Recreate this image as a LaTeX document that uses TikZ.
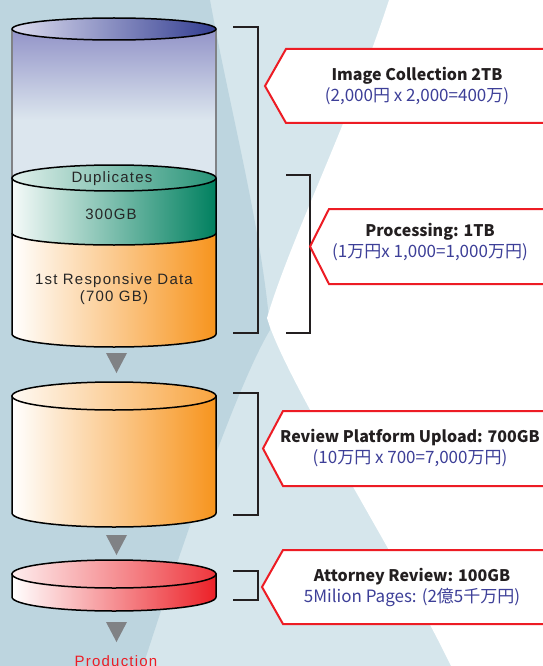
\documentclass[tikz,border=0pt]{standalone}
\usepackage{fontspec}
\setmainfont{Liberation Sans}
\newfontfamily\cylfont{Liberation Sans}[LetterSpace=8]
\newfontfamily\tagfont{Noto Sans CJK JP}
\usetikzlibrary{positioning}

\definecolor{bgdark}{HTML}{BDD5DF}
\definecolor{bglight}{HTML}{D6E6EC}
\definecolor{tagred}{HTML}{ED1C24}
\definecolor{subblue}{HTML}{3D3F98}
\definecolor{titledark}{HTML}{231F20}
\definecolor{textgray}{HTML}{262626}
\definecolor{arrowgray}{HTML}{808285}
\definecolor{navy}{HTML}{323D91}
\definecolor{lavender}{HTML}{DCDCEF}
\definecolor{glassblue}{HTML}{9293C8}
\definecolor{glass}{HTML}{DCE6EE}
\definecolor{dupgreen}{HTML}{00805F}
\definecolor{orangeR}{HTML}{F7941D}
\definecolor{redR}{HTML}{EC2027}

\newcommand{\tagtitle}[1]{{\fontsize{16}{21}\selectfont\bfseries #1}}
\newcommand{\tagsub}[1]{{\fontsize{17}{21}\selectfont\color{subblue}#1}}

\begin{document}
\begin{tikzpicture}[x=1pt,y=-1pt]
\tikzstyle{bracket}=[draw=titledark,line width=2pt]
\tikzstyle{tagbox}=[draw=tagred,line width=2pt,fill=white]
\tikzstyle{tagtext}=[align=center,text=titledark,font=\tagfont\fontsize{16}{21}\selectfont]
\tikzstyle{cyledge}=[draw=black,line width=1.5pt]
\tikzstyle{cyltext}=[text=textgray,font=\cylfont\fontsize{15}{17}\selectfont,align=center]
\tikzstyle{drop}=[fill=arrowgray]

\useasboundingbox (0,0) rectangle (542,666);

%-- Background --
\fill[bglight] (0,0) rectangle (542,666);
\fill[bgdark] (0,0) -- (210,0) .. controls (230,110) and (262,230) .. (270,330)
  .. controls (240,380) and (190,520) .. (143,666) -- (0,666) -- cycle;
\fill[white] (389,0) .. controls (350,120) and (290,240) .. (267,318)
  .. controls (285,380) and (400,560) .. (451,666) -- (542,666) -- (542,0) -- cycle;

%-- Collection cylinder --
\fill[glass] (12,29) rectangle (216,178);
\shade[top color=glassblue,bottom color=glass] (12,29) rectangle (216,120);
\draw[arrowgray,line width=1.2pt] (12,29) -- (12,178) (216,29) -- (216,178);
\shade[cyledge,left color=lavender,right color=navy] (114,29) ellipse [x radius=102,y radius=11];

\shade[left color=white,right color=orangeR] (12,233) -- (12,334)
  arc[start angle=180,end angle=0,x radius=102,y radius=13] -- (216,233) -- cycle;
\shade[left color=white!96!dupgreen,right color=dupgreen] (12,178) -- (12,233)
  arc[start angle=180,end angle=0,x radius=102,y radius=12] -- (216,178) -- cycle;
\draw[cyledge] (12,233) arc[start angle=180,end angle=0,x radius=102,y radius=12];
\draw[cyledge] (12,178) -- (12,334) arc[start angle=180,end angle=0,x radius=102,y radius=13] -- (216,178);
\shade[cyledge,left color=white!88!dupgreen,right color=dupgreen!85!white] (114,178) ellipse [x radius=102,y radius=13];

\node[cyltext] (dupl) at (112,178.5) {Duplicates};
\node[cyltext] (dup300) at (111,214) {300GB};
\node[cyltext] (resp) at (114,289.5) {1st Responsive Data\\(700 GB)};

%-- Upload cylinder --
\shade[cyledge,left color=white,right color=orangeR] (12,396) -- (12,513)
  arc[start angle=180,end angle=0,x radius=102,y radius=14] -- (216,396) -- cycle;
\shade[cyledge,left color=white!95!orangeR,right color=orangeR!85!white] (114,396) ellipse [x radius=102,y radius=14];

%-- Review cylinder --
\shade[cyledge,left color=white,right color=redR] (12,574) -- (12,597)
  arc[start angle=180,end angle=0,x radius=102,y radius=14] -- (216,574) -- cycle;
\shade[cyledge,left color=white!92!redR,right color=redR!90!white] (114,574) ellipse [x radius=102,y radius=14];

%-- Drops --
\foreach \ty in {353,535,622}
  \fill[drop] (106,\ty) -- (127,\ty) -- (116.5,\ty+20) -- cycle;

\node[text=tagred,font=\cylfont\fontsize{15}{18}\selectfont,anchor=base,inner sep=0pt] (prod) at (116,666) {Production};

%-- Brackets --
\draw[bracket] (233,27) -- (258,27) -- (258,333) -- (233,333);
\draw[bracket] (286,175) -- (310,175) -- (310,333) -- (286,333);
\draw[bracket] (233,393) -- (258,393) -- (258,515) -- (233,515);
\draw[bracket] (233,571) -- (258,571) -- (258,600) -- (233,600);

%-- Tags --
\draw[tagbox] (286,49) -- (560,49) -- (560,123) -- (286,123) -- (265,86) -- cycle;
\draw[tagbox] (329,209) -- (560,209) -- (560,284) -- (329,284) -- (310,246.5) -- cycle;
\draw[tagbox] (283,411) -- (560,411) -- (560,486) -- (283,486) -- (263,448.5) -- cycle;
\draw[tagbox] (283,550) -- (560,550) -- (560,624) -- (283,624) -- (262,587) -- cycle;

\node[tagtext] (collect) at (417,86.5) {\tagtitle{Image Collection 2TB}\\\tagsub{(2,000円 x 2,000=400万)}};
\node[tagtext] (process) at (430,242) {\tagtitle{Processing: 1TB}\\\tagsub{(1万円x 1,000=1,000万円)}};
\node[tagtext] (upload) at (410,448.5) {\tagtitle{Review Platform Upload: 700GB}\\\tagsub{(10万円 x 700=7,000万円)}};
\node[tagtext] (review) at (412,587) {\tagtitle{Attorney Review: 100GB}\\\tagsub{5Milion Pages: (2億5千万円)}};

\end{tikzpicture}
\end{document}
